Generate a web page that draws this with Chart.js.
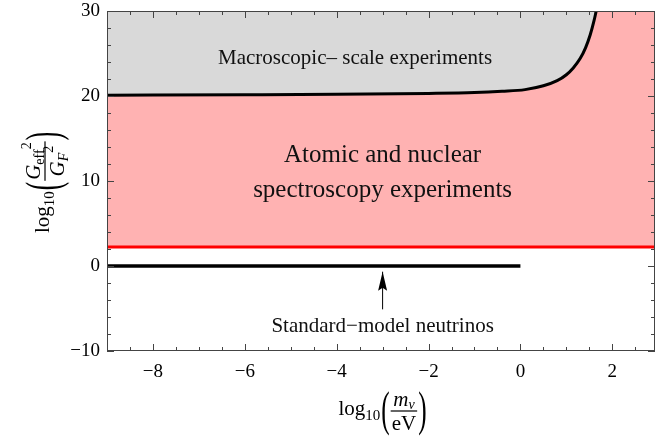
<!DOCTYPE html>
<html lang="en">
<head>
<meta charset="UTF-8">
<title>Effective coupling bounds vs neutrino mass</title>
<script src="https://cdn.jsdelivr.net/npm/chart.js"></script>
<style>
    html, body { margin: 0; padding: 0; background: #ffffff; }
    #wrap { width: 655px; height: 439px; }
</style>
</head>
<body>
<div id="wrap"><canvas id="chart" width="655" height="439"></canvas></div>
<script>
// axes: x = log10(m_nu / eV), y = log10(G_eff^2 / G_F^2)
const xRange = [-9, 2.93];
const yRange = [-10, 30];
const xTickValues = [-8, -6, -4, -2, 0, 2];
const yTickValues = [-10, 0, 10, 20, 30];

// macroscopic-scale experiments bound (black curve)
const macroX = [-9, -6, -4, -2, -1, -0.4, 0.1, 0.5, 0.8, 1.0, 1.15, 1.3, 1.42, 1.52, 1.6, 1.65];
const macroY = [20.1, 20.15, 20.2, 20.3, 20.4, 20.55, 20.75, 21.2, 21.8, 22.5, 23.3, 24.4, 25.7, 27.2, 28.8, 30];

// atomic / nuclear spectroscopy bound (red line)
const spectroX = [-9, 2.93];
const spectroY = [2.25, 2.25];

// standard-model neutrinos (black line at 0)
const smX = [-9, 0];
const smY = [0, 0];

// arrow pointing at the SM line
const arrowX = [-3, -3];
const arrowY = [-5.1, -0.67];

// region labels: text, x, baseline y (data units)
const labelText = ['Macroscopic\u2013 scale experiments', 'Atomic and nuclear', 'spectroscopy experiments', 'Standard\u2212model neutrinos'];
const labelX = [-3.6, -3.0, -3.0, -3.0];
const labelY = [23.8, 12.25, 8.15, -7.75];
const labelSize = [21, 25, 25, 21];

const SERIF = '"Liberation Serif", "DejaVu Serif", serif';

function pts(xs, ys) {
    return xs.map((x, i) => ({ x: x, y: ys[i] }));
}

function fmt(v) {
    return v < 0 ? '\u2212' + Math.abs(v) : String(v);
}

// draws pieces one after another, returns total width
function run(ctx, pieces, x, draw) {
    let w = 0;
    pieces.forEach(p => {
        ctx.font = p.font;
        if (draw) ctx.fillText(p.t, x + w, p.dy);
        w += ctx.measureText(p.t).width;
    });
    return w;
}

// "log10( num / den )" centred on origin, fraction bar at y=0
function drawLogFrac(ctx, num, den) {
    const pre = [
        { t: 'log', font: '21px ' + SERIF, dy: 4 },
        { t: '10', font: '15px ' + SERIF, dy: 9 }
    ];
    ctx.textAlign = 'left';
    ctx.textBaseline = 'alphabetic';
    const wPre = run(ctx, pre, 0, false);
    const wNum = run(ctx, num, 0, false);
    const wDen = run(ctx, den, 0, false);
    const fracW = Math.max(wNum, wDen) + 4;
    ctx.font = '21px ' + SERIF;
    const parenW = ctx.measureText('(').width * 1.2;
    const total = wPre + parenW + fracW + parenW + 2;
    let x = -total / 2;
    run(ctx, pre, x, true);
    x += wPre + 1;
    const paren = (ch, px) => {
        ctx.save();
        ctx.translate(px, 1.5);
        ctx.scale(1.2, 2.3);
        ctx.font = '21px ' + SERIF;
        ctx.textBaseline = 'middle';
        ctx.fillText(ch, 0, 0);
        ctx.restore();
    };
    paren('(', x);
    x += parenW;
    run(ctx, num, x + (fracW - wNum) / 2, true);
    run(ctx, den, x + (fracW - wDen) / 2, true);
    ctx.fillRect(x + 1, -0.6, fracW - 2, 1.2);
    x += fracW;
    paren(')', x);
}

const decor = {
    id: 'decor',
    afterDatasetsDraw(chart) {
        const ctx = chart.ctx;
        const xs = chart.scales.x, ys = chart.scales.y;
        const ca = chart.chartArea;

        // arrow head
        const tipX = xs.getPixelForValue(arrowX[1]);
        const tipY = ys.getPixelForValue(arrowY[1]);
        ctx.save();
        ctx.fillStyle = '#000';
        ctx.beginPath();
        ctx.moveTo(tipX, tipY);
        ctx.lineTo(tipX - 4.5, tipY + 19);
        ctx.lineTo(tipX, tipY + 16);
        ctx.lineTo(tipX + 4.5, tipY + 19);
        ctx.closePath();
        ctx.fill();

        // region labels
        ctx.textAlign = 'center';
        ctx.textBaseline = 'alphabetic';
        ctx.fillStyle = '#111';
        labelText.forEach((t, i) => {
            ctx.font = labelSize[i] + 'px ' + SERIF;
            ctx.fillText(t, xs.getPixelForValue(labelX[i]), ys.getPixelForValue(labelY[i]));
        });

        // frame with inward ticks on all four sides
        ctx.strokeStyle = '#444';
        ctx.lineWidth = 1;
        ctx.strokeRect(ca.left + 0.5, ca.top + 0.5, ca.right - ca.left - 1, ca.bottom - ca.top - 1);
        ctx.beginPath();
        for (let v = -9; v <= xs.max + 1e-6; v += 0.5) {
            const major = Math.abs(v / 2 - Math.round(v / 2)) < 1e-6;
            const len = major ? 7 : 4;
            const px = Math.round(xs.getPixelForValue(v)) + 0.5;
            ctx.moveTo(px, ca.bottom); ctx.lineTo(px, ca.bottom - len);
            ctx.moveTo(px, ca.top); ctx.lineTo(px, ca.top + len);
        }
        for (let v = yRange[0]; v <= yRange[1] + 1e-6; v += 2) {
            const major = Math.abs(v / 10 - Math.round(v / 10)) < 1e-6;
            const len = major ? 7 : 4;
            const py = Math.round(ys.getPixelForValue(v)) + 0.5;
            ctx.moveTo(ca.left, py); ctx.lineTo(ca.left + len, py);
            ctx.moveTo(ca.right, py); ctx.lineTo(ca.right - len, py);
        }
        ctx.stroke();
        ctx.restore();
    },
    afterDraw(chart) {
        const ctx = chart.ctx;
        ctx.save();
        ctx.fillStyle = '#000';

        // x title
        ctx.save();
        ctx.translate(383, 411);
        drawLogFrac(ctx,
            [{ t: 'm', font: 'italic 21px ' + SERIF, dy: -5 },
             { t: '\u03BD', font: 'italic 14px ' + SERIF, dy: -2 }],
            [{ t: 'eV', font: '21px ' + SERIF, dy: 19 }]);
        ctx.restore();

        // y title
        ctx.save();
        ctx.translate(45, 182);
        ctx.rotate(-Math.PI / 2);
        drawLogFrac(ctx,
            [{ t: 'G', font: 'italic 21px ' + SERIF, dy: -5 },
             { t: 'eff', font: '14px ' + SERIF, dy: -1 },
             { t: '2', font: '14px ' + SERIF, dy: -14 }],
            [{ t: 'G', font: 'italic 21px ' + SERIF, dy: 19 },
             { t: 'F', font: 'italic 14px ' + SERIF, dy: 23 },
             { t: '2', font: '14px ' + SERIF, dy: 8 }]);
        ctx.restore();

        ctx.restore();
    }
};

const tickFont = { family: SERIF, size: 19, lineHeight: 1 };

new Chart(document.getElementById('chart').getContext('2d'), {
    type: 'scatter',
    data: {
        datasets: [
            {
                label: 'Macroscopic-scale experiments',
                data: pts(macroX, macroY),
                showLine: true,
                borderColor: '#000',
                borderWidth: 3,
                backgroundColor: '#d9d9d9',
                fill: 'end',
                pointRadius: 0,
                cubicInterpolationMode: 'monotone'
            },
            {
                label: 'Standard-model neutrinos',
                data: pts(smX, smY),
                showLine: true,
                borderColor: '#000',
                borderWidth: 3.5,
                pointRadius: 0,
                fill: false
            },
            {
                label: 'Arrow',
                data: pts(arrowX, arrowY),
                showLine: true,
                borderColor: '#000',
                borderWidth: 1,
                pointRadius: 0,
                fill: false
            },
            {
                label: 'Atomic and nuclear spectroscopy experiments',
                data: pts(spectroX, spectroY),
                showLine: true,
                borderColor: '#ff0000',
                borderWidth: 3,
                backgroundColor: '#ffb2b2',
                fill: 'end',
                pointRadius: 0
            }
        ]
    },
    options: {
        responsive: false,
        animation: false,
        events: [],
        layout: { padding: { top: 11, left: 0, right: 0, bottom: 0 } },
        plugins: {
            legend: { display: false },
            tooltip: { enabled: false }
        },
        scales: {
            x: {
                type: 'linear',
                min: xRange[0],
                max: xRange[1],
                grid: { display: false, drawTicks: false },
                border: { display: false },
                afterBuildTicks: s => { s.ticks = xTickValues.map(v => ({ value: v })); },
                afterFit: s => { s.height = 88; s.paddingLeft = 0; s.paddingRight = 0; },
                ticks: { font: tickFont, color: '#000', padding: 12, maxRotation: 0, callback: fmt }
            },
            y: {
                type: 'linear',
                min: yRange[0],
                max: yRange[1],
                grid: { display: false, drawTicks: false },
                border: { display: false },
                afterBuildTicks: s => { s.ticks = yTickValues.map(v => ({ value: v })); },
                afterFit: s => { s.width = 107; s.paddingTop = 0; s.paddingBottom = 0; },
                ticks: { font: tickFont, color: '#000', padding: 7, callback: fmt }
            }
        }
    },
    plugins: [decor]
});
</script>
</body>
</html>
